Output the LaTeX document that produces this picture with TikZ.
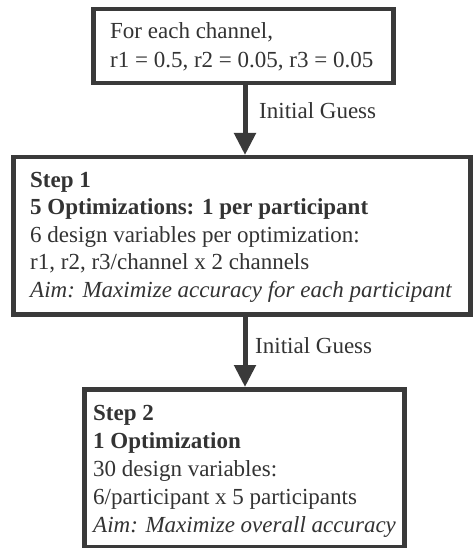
\documentclass[tikz,border=0pt]{standalone}
\usepackage{fontspec}
\setmainfont{Liberation Serif}
\usetikzlibrary{arrows.meta}
\definecolor{linegray}{HTML}{3A3A3A}
\definecolor{textgray}{HTML}{333333}
\tikzset{
  box/.style={draw=linegray, line width=4.5pt, fill=white, inner sep=0pt, anchor=north west},
  txt/.style={anchor=base west, inner sep=0pt, text=textgray, font=\fontsize{23}{28}\selectfont},
  arr/.style={draw=linegray, line width=5pt, -{Triangle[length=22pt,width=21pt]}},
}
\begin{document}
\begin{tikzpicture}[x=1pt,y=-1pt]
\useasboundingbox[fill=white] (0,0) rectangle (475,548);
\node[box, minimum width=300pt, minimum height=74pt] (b1) at (91,7) {};
\node[box, minimum width=457pt, minimum height=157pt] (b2) at (11,155) {};
\node[box, minimum width=320pt, minimum height=158pt] (b3) at (82,387) {};
\node[txt] (t1) at (110,39) {\begin{tabular}[t]{@{}l@{}}For each channel,\\[0.5pt] r1 = 0.5, r2 = 0.05, r3 = 0.05\end{tabular}};
\node[txt] (t2) at (30,187) {\begin{tabular}[t]{@{}l@{}}\textbf{Step 1}\\[-0.5pt] \textbf{5 Optimizations: 1 per participant}\\[-0.5pt] 6 design variables per optimization:\\[-0.5pt] r1, r2, r3/channel x 2 channels\\[-0.5pt] \textit{Aim: Maximize accuracy for each participant}\end{tabular}};
\node[txt] (t3) at (93,420) {\begin{tabular}[t]{@{}l@{}}\textbf{Step 2}\\ \textbf{1 Optimization}\\ 30 design variables:\\ 6/participant x 5 participants\\ \textit{Aim: Maximize overall accuracy}\end{tabular}};
\coordinate (ax) at (245,0);
\draw[arr] (ax |- b1.south) -- (ax |- b2.north);
\draw[arr] (ax |- b2.south) -- (ax |- b3.north);
\node[txt] (l1) at (259,119) {Initial Guess};
\node[txt] (l2) at (255,353) {Initial Guess};
\end{tikzpicture}
\end{document}
